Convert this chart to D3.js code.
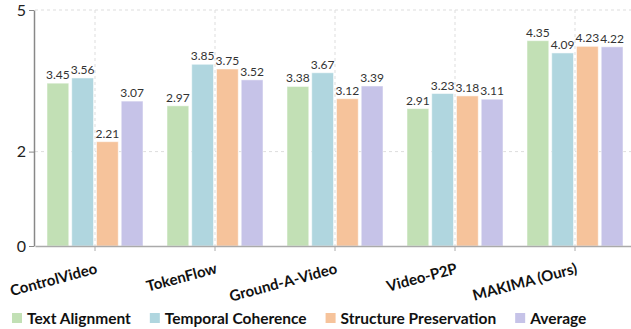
<!DOCTYPE html>
<html>
<head>
<script src="https://cdn.jsdelivr.net/npm/d3@7"></script>
<style>
  body { margin: 0; background: #fff; }
  text { font-family: Lato, "Open Sans", sans-serif; }
</style>
</head>
<body>
<svg id="chart" width="631" height="329"></svg>
<script>
const methods = ['ControlVideo', 'TokenFlow', 'Ground-A-Video', 'Video-P2P', 'MAKIMA (Ours)'];
const series = ['Text Alignment', 'Temporal Coherence', 'Structure Preservation', 'Average'];
const textAlignment = [3.45, 2.97, 3.38, 2.91, 4.35];
const temporalCoherence = [3.56, 3.85, 3.67, 3.23, 4.09];
const structurePreservation = [2.21, 3.75, 3.12, 3.18, 4.23];
const average = [3.07, 3.52, 3.39, 3.11, 4.22];
const yTicks = [0, 2, 5];
const colors = ['#c2e0b5', '#b0d6df', '#f6c39b', '#c6c3e8'];

const values = [textAlignment, temporalCoherence, structurePreservation, average];
const svg = d3.select('#chart');

const x0 = d3.scaleBand().domain(methods).range([35, 635]).paddingInner(0.2).paddingOuter(0.1);
const x1 = d3.scaleBand().domain(series).range([0, x0.bandwidth()]).paddingInner(0.12);
const y = d3.scaleLinear().domain([0, 5]).range([246, 10]);

// grid
svg.append('g').selectAll('line.h').data([2, 5]).join('line')
  .attr('x1', 35).attr('x2', 631)
  .attr('y1', d => y(d)).attr('y2', d => y(d))
  .attr('stroke', '#ddd').attr('stroke-dasharray', '3,3');
svg.append('g').selectAll('line.v').data(methods).join('line')
  .attr('x1', d => x0(d) + x0.bandwidth() / 2).attr('x2', d => x0(d) + x0.bandwidth() / 2)
  .attr('y1', y(5)).attr('y2', y(0))
  .attr('stroke', '#ddd').attr('stroke-dasharray', '3,3');

// bars
const groups = svg.append('g').selectAll('g').data(methods).join('g')
  .attr('transform', d => `translate(${x0(d)},0)`);
groups.each(function(m, i) {
  const g = d3.select(this);
  const rows = series.map((s, j) => ({s, v: values[j][i], c: colors[j]}));
  g.selectAll('rect').data(rows).join('rect')
    .attr('x', d => x1(d.s)).attr('width', x1.bandwidth())
    .attr('y', d => y(d.v)).attr('height', d => y(0) - y(d.v))
    .attr('fill', d => d.c).attr('stroke', '#fff').attr('stroke-opacity', 0.5);
  g.selectAll('text').data(rows).join('text')
    .attr('x', d => x1(d.s) + x1.bandwidth() / 2).attr('y', d => y(d.v) - 4)
    .attr('text-anchor', 'middle').attr('font-size', 12).attr('fill', '#333')
    .text(d => d.v.toFixed(2));
});

// y axis
const yAxis = svg.append('g').attr('transform', 'translate(34,0)')
  .call(d3.axisLeft(y).tickValues(yTicks).tickFormat(d3.format('d')).tickSize(5).tickSizeOuter(0).tickPadding(3));
yAxis.select('.domain').attr('stroke', '#888').attr('stroke-width', 1.5);
yAxis.selectAll('.tick line').attr('stroke', '#888');
yAxis.selectAll('.tick text').attr('font-size', 16).attr('fill', '#222');

// x axis
const xAxis = svg.append('g').attr('transform', `translate(0,${y(0)})`)
  .call(d3.axisBottom(x0).tickSize(5).tickSizeOuter(0));
xAxis.select('.domain').attr('stroke', '#aaa').attr('stroke-width', 1.5);
xAxis.selectAll('.tick line').attr('stroke', '#aaa');
xAxis.selectAll('.tick text')
  .attr('font-size', 15).attr('font-weight', 'bold').attr('fill', '#111')
  .attr('text-anchor', 'end').attr('dy', 0).attr('y', 0)
  .attr('transform', 'translate(3,27) rotate(-15)');

// legend
const legend = svg.append('g');
let lx = 12;
series.forEach((s, j) => {
  legend.append('rect').attr('x', lx).attr('y', 313).attr('width', 10).attr('height', 10).attr('fill', colors[j]);
  const t = legend.append('text').attr('x', lx + 15).attr('y', 324)
    .attr('font-size', 15.5).attr('font-weight', 'bold').attr('fill', '#111').text(s);
  lx += 15 + t.node().getComputedTextLength() + 19;
});
</script>
</body>
</html>
